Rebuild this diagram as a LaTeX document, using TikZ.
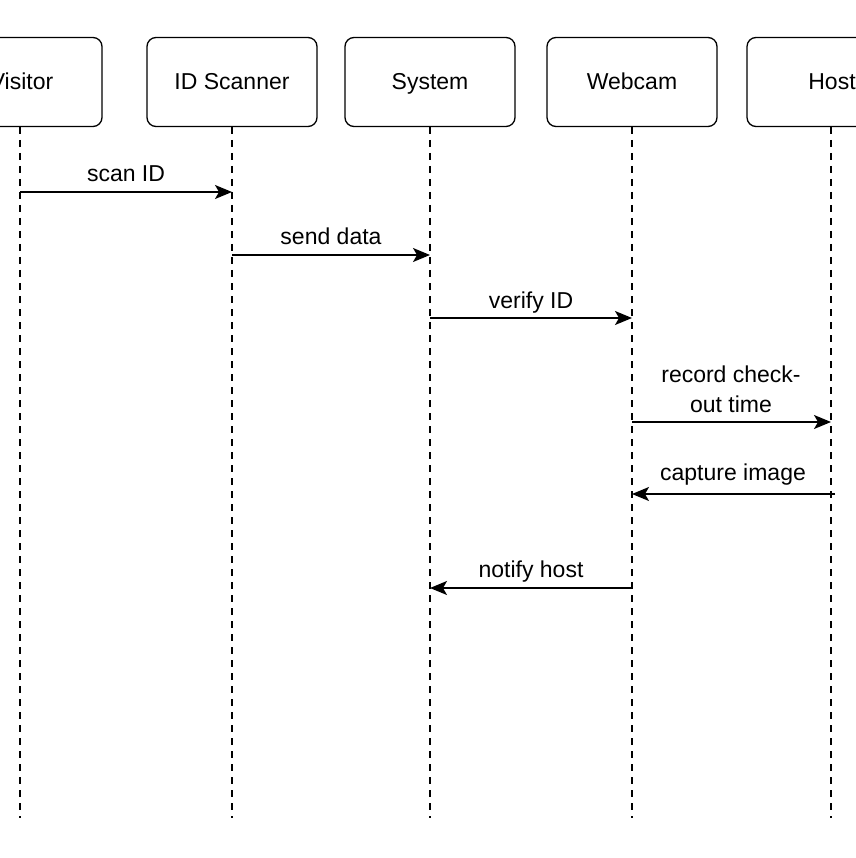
\documentclass[tikz,border=0pt]{standalone}
\usepackage{fontspec}
\setmainfont{Liberation Sans}
\usetikzlibrary{arrows.meta}
\begin{document}
\begin{tikzpicture}[x=1pt,y=-1pt,
  actor/.style={draw, line width=1.3pt, rounded corners=9pt, minimum width=170pt, minimum height=89pt, font=\fontsize{23}{28}\selectfont, inner sep=0pt, text height=16.5pt, text depth=0.5pt},
  life/.style={line width=1.3pt, dash pattern=on 7pt off 6pt},
  msg/.style={line width=1.4pt, -{Stealth[length=17pt,width=14pt,inset=4pt]}},
  lbl/.style={font=\fontsize{23}{30}\selectfont, anchor=base, align=center, inner sep=0pt}]
\useasboundingbox (0,0) rectangle (855,858);
\node[actor] (visitor) at (17,82) {\hspace*{9pt}Visitor};
\node[actor] (scanner) at (232,82) {ID Scanner};
\node[actor] (system) at (430,82) {System};
\node[actor] (webcam) at (632,82) {Webcam};
\node[actor] (host) at (832,82) {Host};
\foreach \n/\x in {visitor/20,scanner/232,system/430,webcam/632,host/831}{
  \coordinate (\n-end) at (\x,818);
  \draw[life] (\x,127) -- (\n-end);
}
% messages
\draw[msg] (visitor-end |- 0,192) -- node[lbl, yshift=10pt] {scan ID} (scanner-end |- 0,192);
\draw[msg] (scanner-end |- 0,255) -- node[lbl, yshift=10pt] {send data} (system-end |- 0,255);
\draw[msg] (system-end |- 0,318) -- node[lbl, yshift=10pt] {verify ID} (webcam-end |- 0,318);
\draw[msg] (webcam-end |- 0,422) -- (host-end |- 0,422);
\node[lbl] (rec) at (731,412) {out time};
\node[lbl] (rec2) at (731,382) {record check-};
\coordinate (cstart) at (835,494);
\draw[msg] (cstart) -- (webcam-end |- 0,494);
\node[lbl] (cap) at (733,480) {capture image};
\draw[msg] (webcam-end |- 0,588) -- node[lbl, yshift=11pt] {notify host} (system-end |- 0,588);
\end{tikzpicture}
\end{document}
